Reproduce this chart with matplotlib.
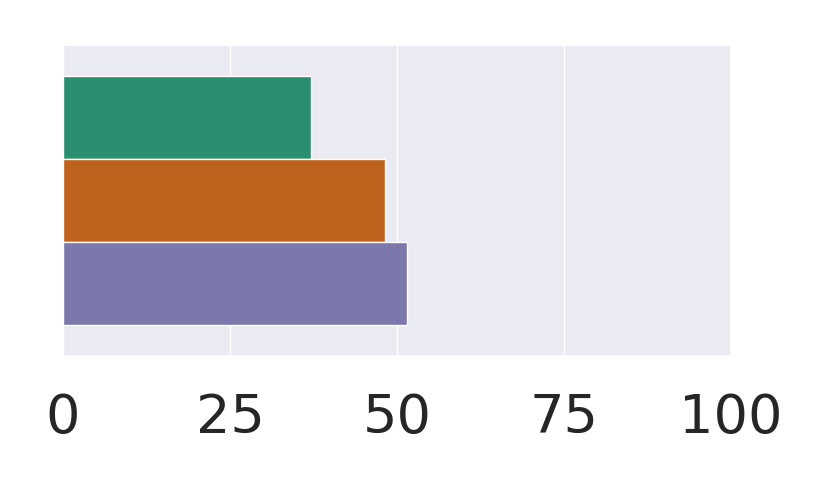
import matplotlib
matplotlib.use("Agg")
import matplotlib.pyplot as plt
import seaborn as sns
import pandas as pd

categories = [""]
groups = ["A", "B", "C"]
values = [37.1, 48.2, 51.5]

sns.set_theme(style="darkgrid")
plt.rcParams['font.family'] = ['DejaVu Sans']

df = pd.DataFrame({"cat": categories * 3, "group": groups, "value": values})

fig = plt.figure(figsize=(8.3, 4.98), dpi=100)
ax = fig.add_axes([0.0759, 0.2851, 0.8048, 0.6245])
sns.barplot(data=df, y="cat", x="value", hue="group", orient="h",
            palette="Dark2", ax=ax, legend=False, edgecolor="white", linewidth=1)
ax.set_xlim(0, 100)
ax.set_xticks([0, 25, 50, 75, 100])
ax.tick_params(axis="x", labelsize=39, pad=20)
ax.set_yticks([])
ax.set_xlabel("")
ax.set_ylabel("")
fig.savefig("out.png", dpi=100)
